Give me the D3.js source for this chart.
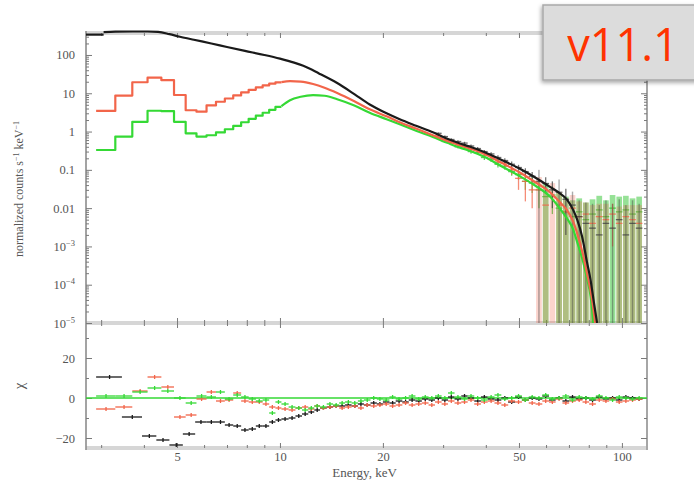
<!DOCTYPE html>
<html>
<head>
<meta charset="utf-8">
<script src="https://cdn.jsdelivr.net/npm/d3@7"></script>
<style>
  body { margin: 0; background: #fff; }
</style>
</head>
<body>
<svg id="chart" width="694" height="484"></svg>
<script>
// ---------- spectral data (energies in keV) ----------

// 0.4 keV channel grid used for the two low-count spectra below 10 keV
const lowEdges = [2.9, 3.3, 3.7, 4.1, 4.5, 4.9, 5.3, 5.7, 6.1, 6.5, 6.9, 7.3, 7.7, 8.1, 8.5, 8.9, 9.3, 9.7, 10.1];
const redLowModel   = [3.45, 8.7, 19.4, 25.5, 22, 9, 3.6, 3.3, 4.8, 6.0, 7.3, 8.8, 10.5, 12.3, 14.2, 16.0, 17.8, 19.2];
const greenLowModel = [0.33, 0.74, 1.8, 3.5, 3.4, 1.8, 0.9, 0.74, 0.8, 0.95, 1.15, 1.4, 1.75, 2.15, 2.6, 3.1, 3.7, 4.4];

// smooth model continuum (normalized counts s^-1 keV^-1)
const blackFirstBin = [2.709, 3.05];
const blackFirstVal = 340;
const blackCurveE = [3.05, 3.3, 3.7, 4.1, 4.4, 4.75, 5.1, 5.6, 6.3, 7.0, 7.9, 9.0, 10.0, 11.0, 11.7, 13.0, 14.7, 16.5, 18.3, 20.5, 22.4, 25, 28, 31, 33.6, 36, 40, 44, 50, 55, 61.6, 66, 69, 72, 74, 76.5, 79, 81, 83, 84.6];
const blackCurveV = [395, 405, 410, 410, 400, 350, 300, 250, 200, 162, 128, 100, 80, 63, 52, 33, 18.5, 9.5, 5.1, 3.0, 2.1, 1.42, 0.96, 0.64, 0.49, 0.4, 0.28, 0.19, 0.11, 0.068, 0.036, 0.024, 0.017, 0.009, 0.005, 0.0018, 4e-4, 1.3e-4, 3e-5, 1e-5];
const redCurveE = [10.1, 10.7, 11.5, 12.5, 13.5, 14.7, 16.5, 18.3, 20.5, 22.4, 25, 28, 31, 33.6, 36, 40, 44, 50, 55, 61.6, 66, 69, 72, 74, 77, 79, 81.5, 83.5];
const redCurveV = [19.5, 20.7, 20.2, 17.5, 14, 10.2, 6.2, 3.8, 2.5, 1.75, 1.2, 0.8, 0.56, 0.44, 0.36, 0.25, 0.16, 0.088, 0.052, 0.026, 0.014, 0.009, 0.0045, 0.0022, 6e-4, 2e-4, 5e-5, 1e-5];
const greenCurveE = [10.1, 10.7, 11.5, 12.5, 13.5, 14.7, 16.5, 18.3, 20.5, 22.4, 25, 28, 31, 33.6, 36, 40, 44, 50, 55, 61.6, 66, 69, 72, 74, 77, 79, 81, 82.5];
const greenCurveV = [4.6, 6.6, 8.1, 8.9, 8.6, 7.0, 4.8, 3.1, 2.1, 1.55, 1.05, 0.72, 0.5, 0.38, 0.31, 0.21, 0.13, 0.07, 0.042, 0.02, 0.0095, 0.0055, 0.0028, 0.0013, 4e-4, 1.5e-4, 5e-5, 1e-5];

// wider channels above 10 keV, shared by all three spectra
const hiEdges = [10.1, 10.6, 11.1, 11.6, 12.1, 12.6, 13.1, 13.7, 14.3, 14.9, 15.5, 16.2, 16.9, 17.6, 18.4, 19.2, 20.0, 20.9, 21.8, 22.8, 23.8, 24.9, 26.0, 27.2, 28.4, 29.7, 31.0, 32.4, 33.9, 35.4, 37.0, 38.7, 40.5, 42.4, 44.4, 46.5, 48.7, 51.0, 53.4, 55.9, 58.5, 61.2, 64.0, 67.0, 70.1, 73.3, 76.7, 80.2, 83.9, 87.8, 91.8, 96.0, 100.4, 105.0, 109.8, 114.8];

// measured counts in the channels from 28.4 keV upward (value, 1-sigma error)
const hiDataFrom = 24;
const blackHiVal = [0.9, 0.74, 0.62, 0.55, 0.5, 0.42, 0.36, 0.3, 0.26, 0.21, 0.175, 0.14, 0.115, 0.09, 0.068, 0.05, 0.044, 0.03, 0.026, 0.017, 0.012, 0.006, 0.004, 0.003, 0.002, 0.004, 0.003, 0.005, 0.002, 0.004, 0.003];
const blackHiErr = [0.05, 0.05, 0.045, 0.045, 0.04, 0.04, 0.035, 0.03, 0.03, 0.03, 0.025, 0.025, 0.02, 0.02, 0.02, 0.05, 0.02, 0.02, 0.03, 0.015, 0.015, 0.01, 0.01, 0.01, 0.01, 0.012, 0.01, 0.012, 0.01, 0.012, 0.01];
const redHiVal = [0.8, 0.62, 0.58, 0.44, 0.41, 0.34, 0.32, 0.24, 0.23, 0.16, 0.15, 0.1, 0.06, 0.05, 0.03, 0.03, 0.012, 0.02, 0.012, 0.008, 0.01, 0.006, 0.007, 0.004, 0.006, 0.005, 0.007, 0.004, 0.006, 0.005, 0.004];
const redHiErr = [0.06, 0.05, 0.05, 0.045, 0.04, 0.04, 0.035, 0.035, 0.03, 0.03, 0.03, 0.025, 0.03, 0.035, 0.02, 0.035, 0.015, 0.025, 0.014, 0.01, 0.012, 0.009, 0.007, 0.008, 0.007, 0.008, 0.006, 0.007, 0.006, 0.007, 0.008];
const greenHiVal = [0.7, 0.55, 0.52, 0.4, 0.37, 0.3, 0.28, 0.21, 0.19, 0.14, 0.125, 0.09, 0.075, 0.05, 0.045, 0.03, 0.02, 0.022, 0.01, 0.008, 0.006, 0.008, 0.005, 0.007, 0.009, 0.006, 0.01, 0.008, 0.009, 0.007, 0.008];
const greenHiErr = [0.05, 0.045, 0.045, 0.04, 0.035, 0.035, 0.03, 0.03, 0.03, 0.025, 0.025, 0.02, 0.02, 0.02, 0.02, 0.02, 0.025, 0.015, 0.015, 0.012, 0.01, 0.01, 0.009, 0.01, 0.012, 0.01, 0.012, 0.012, 0.012, 0.011, 0.012];

// residuals (data - model) / error
const blackLowEdges = [2.9, 3.45, 3.95, 4.35, 4.75, 5.2, 5.65, 6.1, 6.5, 6.9, 7.3, 7.7, 8.1, 8.5, 8.9, 9.3, 9.7, 10.1];
const blackLowChi = [10.5, -9.5, -19, -21, -23.5, -18, -12, -12, -12, -13.5, -14, -16, -15.5, -14, -14, -12, -11];
const redLowChi   = [-5.5, -4.5, 3.5, 10.5, 5.5, -9.5, -8.5, -0.5, 3, -1.5, -1, 2.5, -1.5, -2, -2, -3, -4.5, -5];
const greenLowChi = [1, 1, 3, 5, 3.5, 0, -2.5, 1, 0.5, 3, -0.5, 1.5, 0.5, -0.5, -1.5, -1, -7.5, -2];
const blackHiChi = [-10.5, -10, -9, -8, -7, -6, -5, -4.5, -4, -4, -3.5, -4, -3, -3.5, -2.5, -3, -2, -2.5, -1.5, -2, -1, -1.5, -0.5, -1,
  0, -1, 0.5, -0.5, 1, 0, -1.5, 0.5, -0.5, -1, 0, -2, 0.5, -1, 0, -0.5, 1, -1, 0, -1.5, 0.5, -0.5, 0, -1, 0.5, -0.5, 0, -1, 0.5, 0, -0.5];
const redHiChi = [-5.5, -6, -5, -4.5, -5.5, -4, -5, -4.5, -4, -5, -4.5, -4, -5, -3.5, -4, -3.5, -3, -4, -3.5, -2.5, -3.5, -3, -2.5, -3.5,
  -2, -3, -1.5, -2.5, -2, -1, -3, -2, -1.5, -2.5, -3.5, -1.5, -2, -1, -2.5, -3, -1.5, -2, -0.5, -2.5, -1.5, -1, -2, -3, -1, -1.5, -0.5, -2, -1.5, -1, -0.5];
const greenHiChi = [-3, -4.5, -5, -6, -5, -4, -4.5, -3, -3.5, -2.5, -2, -2.5, -1.5, -1, 0, -0.5, -1, 0.5, -0.5, 0, 1, -0.5, 0.5, 0,
  1, 0, 2.5, 0.5, -0.5, 1, 0, -1, 0.5, 1.5, -0.5, 0, 1, -1, 0.5, 0, 1.5, -0.5, 0, 1, -1, 0.5, 0, -0.5, 1, 0, -1, 0.5, 0, -0.5, 0];

// axis ticks
const yMajor = [1e-5, 1e-4, 1e-3, 0.01, 0.1, 1, 10, 100];
const yLabels = ["10-5", "10-4", "10-3", "0.01", "0.1", "1", "10", "100"];
const xLabeled = [5, 10, 20, 50, 100];
const xMinor = [3, 4, 6, 7, 8, 9, 30, 40, 60, 70, 80, 90];
const chiMajor = [-20, 0, 20];
const chiMinor = [-10, 10, 30];

// ---------- layout ----------
const L = 86, R = 647, T = 33, MID = 323, B = 448;
const SERIF = "Liberation Serif, DejaVu Serif, serif";
const COL = { black: "#1a1a1a", red: "#f2654a", green: "#35d935" };

const svg = d3.select("#chart");
const x = d3.scaleLog().domain([2.709, 118.4]).range([L, R]);
const yTop = d3.scaleLog().domain([1e-5, 375]).range([MID, T]);
const yRes = d3.scaleLinear().domain([-25, 37.5]).range([B, MID]);

const defs = svg.append("defs");
defs.append("clipPath").attr("id", "clipTop")
  .append("rect").attr("x", L).attr("y", T - 4).attr("width", R - L).attr("height", MID - T + 4);
defs.append("clipPath").attr("id", "clipRes")
  .append("rect").attr("x", L).attr("y", MID).attr("width", R - L).attr("height", B - MID);
const shadow = defs.append("filter").attr("id", "shadow").attr("x", "-20%").attr("y", "-20%").attr("width", "140%").attr("height", "160%");
shadow.append("feDropShadow").attr("dx", -1).attr("dy", 2).attr("stdDeviation", 2).attr("flood-color", "#000").attr("flood-opacity", 0.35);

// ---------- frame ----------
const frame = svg.append("g");
[T, MID, B].forEach(yy => {
  frame.append("rect").attr("x", L).attr("y", yy - 2).attr("width", R - L).attr("height", 4).attr("fill", "#d6d6d6");
});
frame.append("line").attr("x1", L).attr("x2", L).attr("y1", T - 2).attr("y2", B + 2).attr("stroke", "#8c8c8c").attr("stroke-width", 1.6);
frame.append("line").attr("x1", R).attr("x2", R).attr("y1", T - 2).attr("y2", B + 2).attr("stroke", "#a6a6a6").attr("stroke-width", 2);

function styleAxis(g) {
  g.select(".domain").remove();
  g.selectAll(".tick line").attr("stroke", "#7a7a7a").attr("stroke-width", 1);
  g.selectAll(".tick text").attr("fill", "#555").attr("font-size", 12.5).attr("font-family", SERIF);
}

// log-scale minor values for the count-rate axis
const yMinor = [];
for (let p = -5; p <= 2; p++) for (let k = 2; k <= 9; k++) {
  const v = k * Math.pow(10, p);
  if (v < 375) yMinor.push(v);
}

// upper panel: left axis with labels
const yAxisG = svg.append("g").attr("transform", `translate(${L},0)`)
  .call(d3.axisLeft(yTop).tickValues(yMajor).tickSize(-6).tickPadding(11)
    .tickFormat((d, i) => yLabels[i]));
styleAxis(yAxisG);
yAxisG.selectAll(".tick text").each(function (d, i) {
  const lab = yLabels[i];
  if (lab.startsWith("10-")) {
    const t = d3.select(this).text("");
    t.append("tspan").text("10");
    t.append("tspan").attr("dy", -5).attr("font-size", 8.5).text("\u2212" + lab.slice(3));
  }
});
styleAxis(svg.append("g").attr("transform", `translate(${L},0)`)
  .call(d3.axisLeft(yTop).tickValues(yMinor).tickSize(-3).tickFormat("")));
styleAxis(svg.append("g").attr("transform", `translate(${R},0)`)
  .call(d3.axisRight(yTop).tickValues(yMajor).tickSize(-6).tickFormat("")));
styleAxis(svg.append("g").attr("transform", `translate(${R},0)`)
  .call(d3.axisRight(yTop).tickValues(yMinor).tickSize(-3).tickFormat("")));

// residual panel: left / right axes
const resAxisG = svg.append("g").attr("transform", `translate(${L},0)`)
  .call(d3.axisLeft(yRes).tickValues(chiMajor).tickSize(-6).tickPadding(11)
    .tickFormat(d => d < 0 ? "\u2212" + Math.abs(d) : String(d)));
styleAxis(resAxisG);
styleAxis(svg.append("g").attr("transform", `translate(${L},0)`)
  .call(d3.axisLeft(yRes).tickValues(chiMinor).tickSize(-3).tickFormat("")));
styleAxis(svg.append("g").attr("transform", `translate(${R},0)`)
  .call(d3.axisRight(yRes).tickValues(chiMajor).tickSize(-6).tickFormat("")));
styleAxis(svg.append("g").attr("transform", `translate(${R},0)`)
  .call(d3.axisRight(yRes).tickValues(chiMinor).tickSize(-3).tickFormat("")));

// energy axes on every horizontal edge
const xBottom = svg.append("g").attr("transform", `translate(0,${B})`)
  .call(d3.axisBottom(x).tickValues(xLabeled).tickSize(-5).tickPadding(4).tickFormat(d3.format("d")));
styleAxis(xBottom);
xBottom.selectAll(".tick text").attr("font-size", 12.5);
styleAxis(svg.append("g").attr("transform", `translate(0,${B})`)
  .call(d3.axisBottom(x).tickValues(xMinor).tickSize(-3).tickFormat("")));
[[T, 1], [MID, 1], [MID, -1]].forEach(([yy, dir]) => {
  const g1 = svg.append("g").attr("transform", `translate(0,${yy})`)
    .call(d3.axisTop(x).tickValues(xLabeled).tickSize(-5 * dir).tickFormat(""));
  const g2 = svg.append("g").attr("transform", `translate(0,${yy})`)
    .call(d3.axisTop(x).tickValues(xMinor).tickSize(-3 * dir).tickFormat(""));
  styleAxis(g1); styleAxis(g2);
});

// ---------- upper panel: models and data ----------
const upper = svg.append("g").attr("clip-path", "url(#clipTop)");
const clampTop = v => Math.max(v, 1e-5);

const stepLine = d3.line().x(d => x(d[0])).y(d => yTop(clampTop(d[1]))).curve(d3.curveStepAfter);
const smoothLine = d3.line().x(d => x(d[0])).y(d => yTop(clampTop(d[1]))).curve(d3.curveMonotoneX);

function stepPoints(edges, vals) {
  const pts = vals.map((v, i) => [edges[i], v]);
  pts.push([edges[edges.length - 1], vals[vals.length - 1]]);
  return pts;
}

// high-energy measured channels; error bars that reach zero run down to the axis
function hiData(vals, errs, color, fillOpacity, barWidth) {
  const g = upper.append("g");
  vals.forEach((v, i) => {
    const e0 = hiEdges[hiDataFrom + i], e1 = hiEdges[hiDataFrom + i + 1];
    const x0 = x(e0), x1 = x(e1), xm = x((e0 + e1) / 2);
    const lo = v - errs[i], hi = v + errs[i];
    if (lo <= 1e-5) {
      const w = barWidth ? barWidth : Math.max(x1 - x0 - 1, 1);
      g.append("rect").attr("x", xm - w / 2).attr("width", w)
        .attr("y", yTop(hi)).attr("height", MID - yTop(hi))
        .attr("fill", color).attr("fill-opacity", fillOpacity);
    } else {
      g.append("line").attr("x1", xm).attr("x2", xm).attr("y1", yTop(lo)).attr("y2", yTop(hi))
        .attr("stroke", color).attr("stroke-width", 1.3).attr("stroke-opacity", 0.75);
    }
    g.append("line").attr("x1", x0).attr("x2", x1).attr("y1", yTop(clampTop(v))).attr("y2", yTop(clampTop(v)))
      .attr("stroke", color).attr("stroke-width", 1.3).attr("stroke-opacity", 0.8);
  });
}

hiData(greenHiVal, greenHiErr, "#2ec42e", 0.5);
hiData(redHiVal, redHiErr, COL.red, 0.28);
hiData(blackHiVal, blackHiErr, "#444", 0.45, 1.4);

function model(path, color, curve) {
  upper.append("path").attr("d", curve(path)).attr("fill", "none")
    .attr("stroke", color).attr("stroke-width", 2.2).attr("stroke-linejoin", "round");
}
model(stepPoints(lowEdges, greenLowModel), COL.green, stepLine);
model(greenCurveE.map((e, i) => [e, greenCurveV[i]]), COL.green, smoothLine);
model(stepPoints(lowEdges, redLowModel), COL.red, stepLine);
model(redCurveE.map((e, i) => [e, redCurveV[i]]), COL.red, smoothLine);
model([[blackFirstBin[0], blackFirstVal], [blackFirstBin[1], blackFirstVal]], COL.black, stepLine);
model(blackCurveE.map((e, i) => [e, blackCurveV[i]]), COL.black, smoothLine);

// ---------- residual panel ----------
const res = svg.append("g").attr("clip-path", "url(#clipRes)");
res.append("line").attr("x1", L).attr("x2", R).attr("y1", yRes(0)).attr("y2", yRes(0))
  .attr("stroke", COL.green).attr("stroke-width", 1.6);

function crosses(edges, chi, color) {
  const g = res.append("g").attr("stroke", color).attr("stroke-width", 1.3);
  chi.forEach((c, i) => {
    const x0 = x(edges[i]), x1 = x(edges[i + 1]), xm = x((edges[i] + edges[i + 1]) / 2);
    g.append("line").attr("x1", x0).attr("x2", x1).attr("y1", yRes(c)).attr("y2", yRes(c));
    g.append("line").attr("x1", xm).attr("x2", xm).attr("y1", yRes(c - 1)).attr("y2", yRes(c + 1));
  });
}
crosses(blackLowEdges, blackLowChi, COL.black);
crosses(hiEdges, blackHiChi, COL.black);
crosses(lowEdges, redLowChi, COL.red);
crosses(hiEdges, redHiChi, COL.red);
crosses(lowEdges, greenLowChi, COL.green);
crosses(hiEdges, greenHiChi, COL.green);

// ---------- axis titles ----------
const ylab = svg.append("text").attr("transform", `translate(23,${(113 + 265) / 2}) rotate(-90)`)
  .attr("text-anchor", "middle").attr("font-family", SERIF).attr("font-size", 12).attr("fill", "#555");
ylab.append("tspan").text("normalized counts s");
ylab.append("tspan").attr("dy", -4).attr("font-size", 8).text("\u22121");
ylab.append("tspan").attr("dy", 4).text(" keV");
ylab.append("tspan").attr("dy", -4).attr("font-size", 8).text("\u22121");

svg.append("text").attr("transform", `translate(24,386) rotate(-90)`)
  .attr("text-anchor", "middle").attr("font-family", SERIF).attr("font-size", 15).attr("fill", "#555").text("\u03c7");

svg.append("text").attr("x", (L + R) / 2 - 2).attr("y", 477).attr("text-anchor", "middle")
  .attr("font-family", SERIF).attr("font-size", 13).attr("fill", "#555").text("Energy, keV");

// ---------- version badge ----------
const badge = svg.append("g");
badge.append("rect").attr("x", 543).attr("y", 5).attr("width", 170).attr("height", 75)
  .attr("fill", "#dcdcdc").attr("stroke", "#a9a9a9").attr("stroke-width", 1.5).attr("filter", "url(#shadow)");
badge.append("text").attr("x", 623).attr("y", 61).attr("text-anchor", "middle")
  .attr("font-family", "'Open Sans', 'Noto Sans', sans-serif").attr("font-size", 45)
  .attr("fill", "#ff3300").text("v11.1");
</script>
</body>
</html>
